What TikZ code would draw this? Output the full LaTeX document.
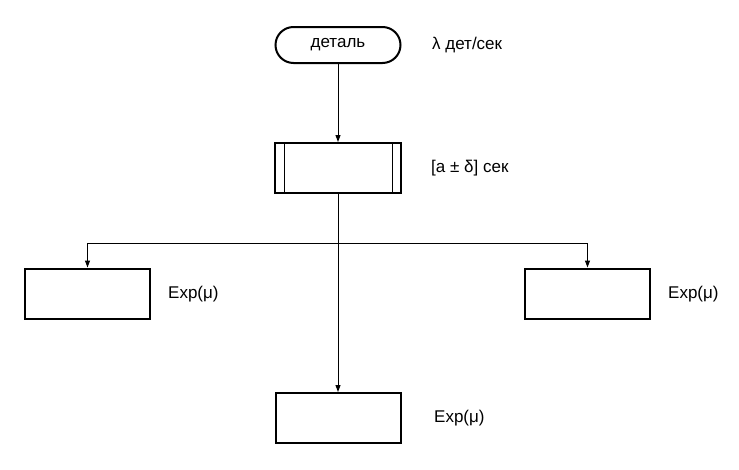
\documentclass[tikz,border=0pt]{standalone}
\usepackage{fontspec}
\setmainfont{Liberation Sans}
\usetikzlibrary{arrows.meta}
\begin{document}
\begin{tikzpicture}[x=1pt,y=-1pt,
  box/.style={draw,line width=2pt,minimum width=125pt,minimum height=50pt,inner sep=0pt},
  term/.style={draw,line width=2pt,minimum width=125pt,minimum height=36pt,rounded corners=18pt,inner sep=0pt,font=\fontsize{17}{20}\selectfont},
  lbl/.style={anchor=west,inner sep=0pt,font=\fontsize{17}{20}\selectfont},
  conn/.style={line width=1pt},
  arr/.style={conn,-{Triangle[length=7pt,width=5pt]}}]
\useasboundingbox (0,0) rectangle (739,469);
\node[term] (det) at (338,45) {деталь};
\node[box,minimum width=126pt] (proc) at (338,168) {};
\draw[line width=0.8pt] ([xshift=10pt]proc.north west) -- ([xshift=10pt]proc.south west);
\draw[line width=0.8pt] ([xshift=-10pt]proc.north east) -- ([xshift=-10pt]proc.south east);
\node[box] (left) at (87.5,293.5) {};
\node[box] (right) at (587.5,293.5) {};
\node[box] (bot) at (338,418) {};
\coordinate (split) at (338,243);
\node[lbl] (l1) at (432,45) {λ дет/сек};
\node[lbl] (l2) at (431,168) {[a ± δ] сек};
\node[lbl] (l3) at (168,294) {Exp(μ)};
\node[lbl] (l4) at (668,294) {Exp(μ)};
\node[lbl] (l5) at (434,418) {Exp(μ)};
\draw[arr] (det.south) -- (proc.north);
\draw[arr] (proc.south) -- (bot.north);
\draw[arr] (split) -| (left.north);
\draw[arr] (split) -| (right.north);
\end{tikzpicture}
\end{document}
